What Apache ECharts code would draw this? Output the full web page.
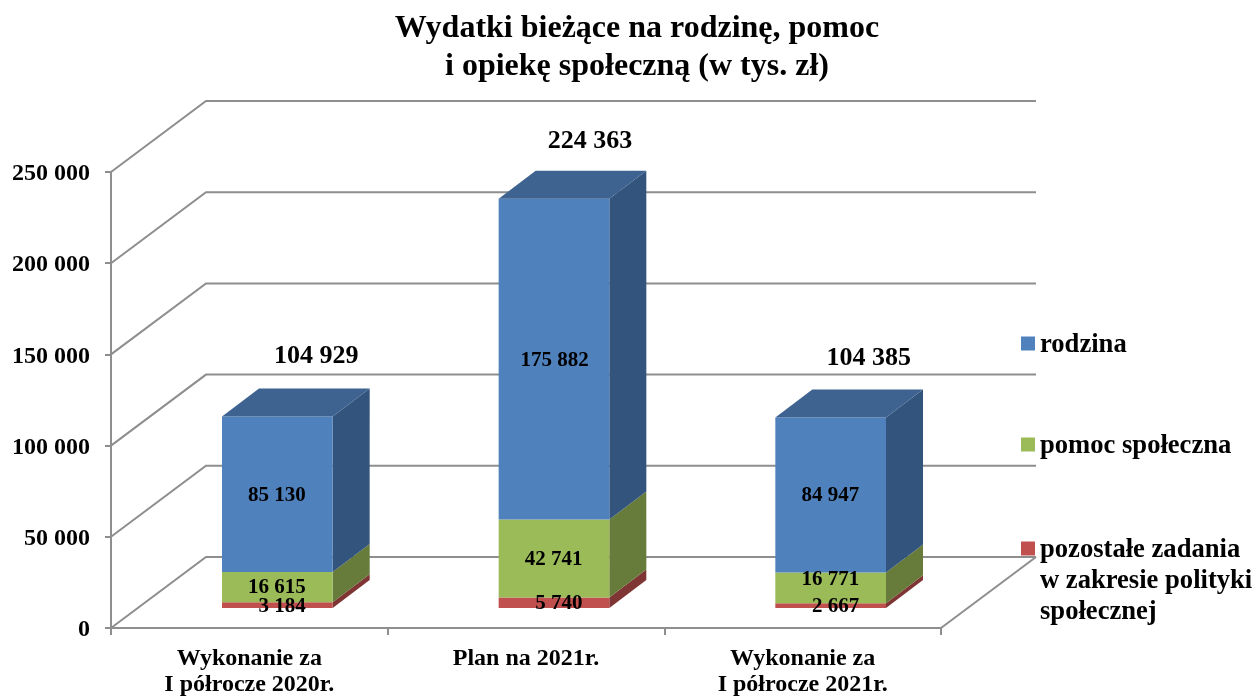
<!DOCTYPE html>
<html><head><meta charset="utf-8">
<style>html,body{margin:0;padding:0;background:#fff}#c{width:1256px;height:697px}</style>
<script src="https://cdn.jsdelivr.net/npm/echarts@6/dist/echarts.min.js"></script>
</head><body><div id="c"></div>
<script>
const categories = ['Wykonanie za\nI półrocze 2020r.', 'Plan na 2021r.', 'Wykonanie za\nI półrocze 2021r.'];
const pozostale = [3184, 5740, 2667];
const pomoc = [16615, 42741, 16771];
const rodzina = [85130, 175882, 84947];
const totals = [104929, 224363, 104385];
const yTicks = [0, 50000, 100000, 150000, 200000, 250000];

const FONT = '"Liberation Serif","Times New Roman",serif';
const WALL = {dx: 95, dy: -71};
const BAR_OFF = {dx: 28, dy: -20};
const DEPTH = {dx: 37, dy: -28};
const BAR_W = 0.4;
const GRID = '#8e8e8e';
const fmt = v => String(v).replace(/\B(?=(\d{3})+$)/g, ' ');
const LABEL_NUDGE = {'1|2': -9};
const TOTAL_NUDGE = [[1, -1], [-2, 2], [0, 0]];

function poly(points, fill) {
  return {type: 'polygon', shape: {points}, style: {fill, stroke: null}};
}
function segRender(sIdx, front, side, top) {
  return function (params, api) {
    const c = api.value(0), y0 = api.value(1), y1 = api.value(2);
    const band = api.size([1, 0])[0], w = band * BAR_W;
    const p0 = api.coord([c, y0]), p1 = api.coord([c, y1]);
    const xL = p0[0] - w / 2 + BAR_OFF.dx, xR = xL + w;
    const yB = p0[1] + BAR_OFF.dy, yT = p1[1] + BAR_OFF.dy;
    const ch = [
      poly([[xR, yB], [xR, yT], [xR + DEPTH.dx, yT + DEPTH.dy], [xR + DEPTH.dx, yB + DEPTH.dy]], side),
      poly([[xL, yB], [xR, yB], [xR, yT], [xL, yT]], front)
    ];
    if (top) ch.push(poly([[xL, yT], [xR, yT], [xR + DEPTH.dx, yT + DEPTH.dy], [xL + DEPTH.dx, yT + DEPTH.dy]], top));
    const nudge = LABEL_NUDGE[sIdx + '|' + c] || 0;
    const val = y1 - y0, wide = val >= 100000;
    ch.push({type: 'text', z2: 100, style: {
      text: fmt(val), x: xL + w / 2 + (wide ? 0.5 : 28.5), y: (yB + yT) / 2 + 1 + nudge,
      align: wide ? 'center' : 'right', verticalAlign: 'middle', font: 'bold 21px ' + FONT, fill: '#000'}});
    return {type: 'group', children: ch};
  };
}
function stacked(arr, below) {
  return arr.map((v, i) => [i, below[i], below[i] + v]);
}
const base0 = categories.map(() => 0);
const base1 = pozostale.slice();
const base2 = pozostale.map((v, i) => v + pomoc[i]);
const NAME3 = 'pozostałe zadania\nw zakresie polityki\nspołecznej';

// Legend text sits slightly below its swatch: a thin spacer line shifts the centred block down.
const legendText = (n, blanks) => ['{s|\u00a0}']
  .concat(Array(blanks).fill('{t|\u00a0}'))
  .concat(n.split('\n').map(l => '{t|' + l + '}')).join('\n');
const legendStyle = {fontFamily: FONT, fontWeight: 'bold', fontSize: 26.6, lineHeight: 31, color: '#000'};

const option = {
  animation: false,
  backgroundColor: '#fff',
  title: {
    text: 'Wydatki bieżące na rodzinę, pomoc\ni opiekę społeczną (w tys. zł)',
    left: 632, top: 5, textAlign: 'center',
    textStyle: {fontFamily: FONT, fontWeight: 'bold', fontSize: 32, lineHeight: 38, color: '#000'}
  },
  grid: {left: 111, right: 315, top: 172, bottom: 69, containLabel: false, outerBoundsMode: 'none'},
  xAxis: {
    type: 'category', data: categories,
    axisLine: {lineStyle: {color: GRID, width: 2}},
    axisTick: {show: true, length: 7, lineStyle: {color: GRID, width: 2}},
    axisLabel: {margin: 18, fontFamily: FONT, fontWeight: 'bold', fontSize: 24, lineHeight: 26, color: '#000', interval: 0},
    splitLine: {show: false}
  },
  yAxis: {
    type: 'value', min: 0, max: 250000, interval: 50000,
    axisLine: {show: true, lineStyle: {color: GRID, width: 2}},
    axisTick: {show: true, length: 6, lineStyle: {color: GRID, width: 2}},
    axisLabel: {margin: 21, color: '#000', formatter: v => '{a|' + fmt(v) + '}',
      rich: {a: {fontFamily: FONT, fontWeight: 'bold', fontSize: 24, lineHeight: 28, padding: [4, 0, 0, 0], color: '#000'}}},
    splitLine: {show: false}
  },
  legend: [
    {data: ['rodzina'], top: 326, formatter: n => legendText(n, 0)},
    {data: ['pomoc społeczna'], top: 427, formatter: n => legendText(n, 0)},
    {data: [NAME3], top: 469, formatter: n => legendText(n, 2)}
  ].map(l => ({
    left: 1021, orient: 'vertical', icon: 'rect', itemWidth: 14, itemHeight: 14, itemGap: 0, padding: 0,
    selectedMode: false, ...l,
    textStyle: {...legendStyle, rich: {t: legendStyle, s: {fontSize: 1, lineHeight: 4}}}
  })),
  series: [
    {
      type: 'custom', name: 'walls', z: 1, silent: true, clip: false,
      data: yTicks.map(v => [v]),
      encode: {y: 0},
      renderItem(params, api) {
        const v = api.value(0);
        const band = api.size([1, 0])[0];
        const a = api.coord([0, v]);
        const xL = a[0] - band / 2, xR = xL + band * categories.length;
        const ch = [{type: 'polyline', shape: {points: [[xL, a[1]], [xL + WALL.dx, a[1] + WALL.dy], [xR + WALL.dx, a[1] + WALL.dy]]},
          style: {stroke: GRID, lineWidth: 2, fill: null}}];
        if (v === 0) ch.push({type: 'line', shape: {x1: xR, y1: a[1], x2: xR + WALL.dx, y2: a[1] + WALL.dy},
          style: {stroke: GRID, lineWidth: 2}});
        return {type: 'group', children: ch};
      }
    },
    {type: 'custom', name: NAME3, z: 2, clip: false, itemStyle: {color: '#C0504D'},
      data: stacked(pozostale, base0), encode: {x: 0, y: [1, 2]}, renderItem: segRender(0, '#C0504D', '#7F3533')},
    {type: 'custom', name: 'pomoc społeczna', z: 2, clip: false, itemStyle: {color: '#9BBB59'},
      data: stacked(pomoc, base1), encode: {x: 0, y: [1, 2]}, renderItem: segRender(1, '#9BBB59', '#677C3B')},
    {type: 'custom', name: 'rodzina', z: 2, clip: false, itemStyle: {color: '#4F81BD'},
      data: stacked(rodzina, base2), encode: {x: 0, y: [1, 2]}, renderItem: segRender(2, '#4F81BD', '#32547D', '#3E6391')},
    {
      type: 'custom', name: 'razem', z: 3, silent: true, clip: false,
      data: totals.map((v, i) => [i, v]),
      encode: {x: 0, y: 1},
      renderItem(params, api) {
        const i = api.value(0);
        const p = api.coord([i, api.value(1)]);
        return {type: 'text', style: {
          text: fmt(api.value(1)), x: p[0] + BAR_OFF.dx + DEPTH.dx + 1 + TOTAL_NUDGE[i][0], y: p[1] + BAR_OFF.dy + DEPTH.dy - 31 + TOTAL_NUDGE[i][1],
          align: 'center', verticalAlign: 'middle', font: 'bold 26px ' + FONT, fill: '#000'}};
      }
    }
  ]
};
echarts.init(document.getElementById('c'), null, {renderer: 'canvas'}).setOption(option);
</script></body></html>
